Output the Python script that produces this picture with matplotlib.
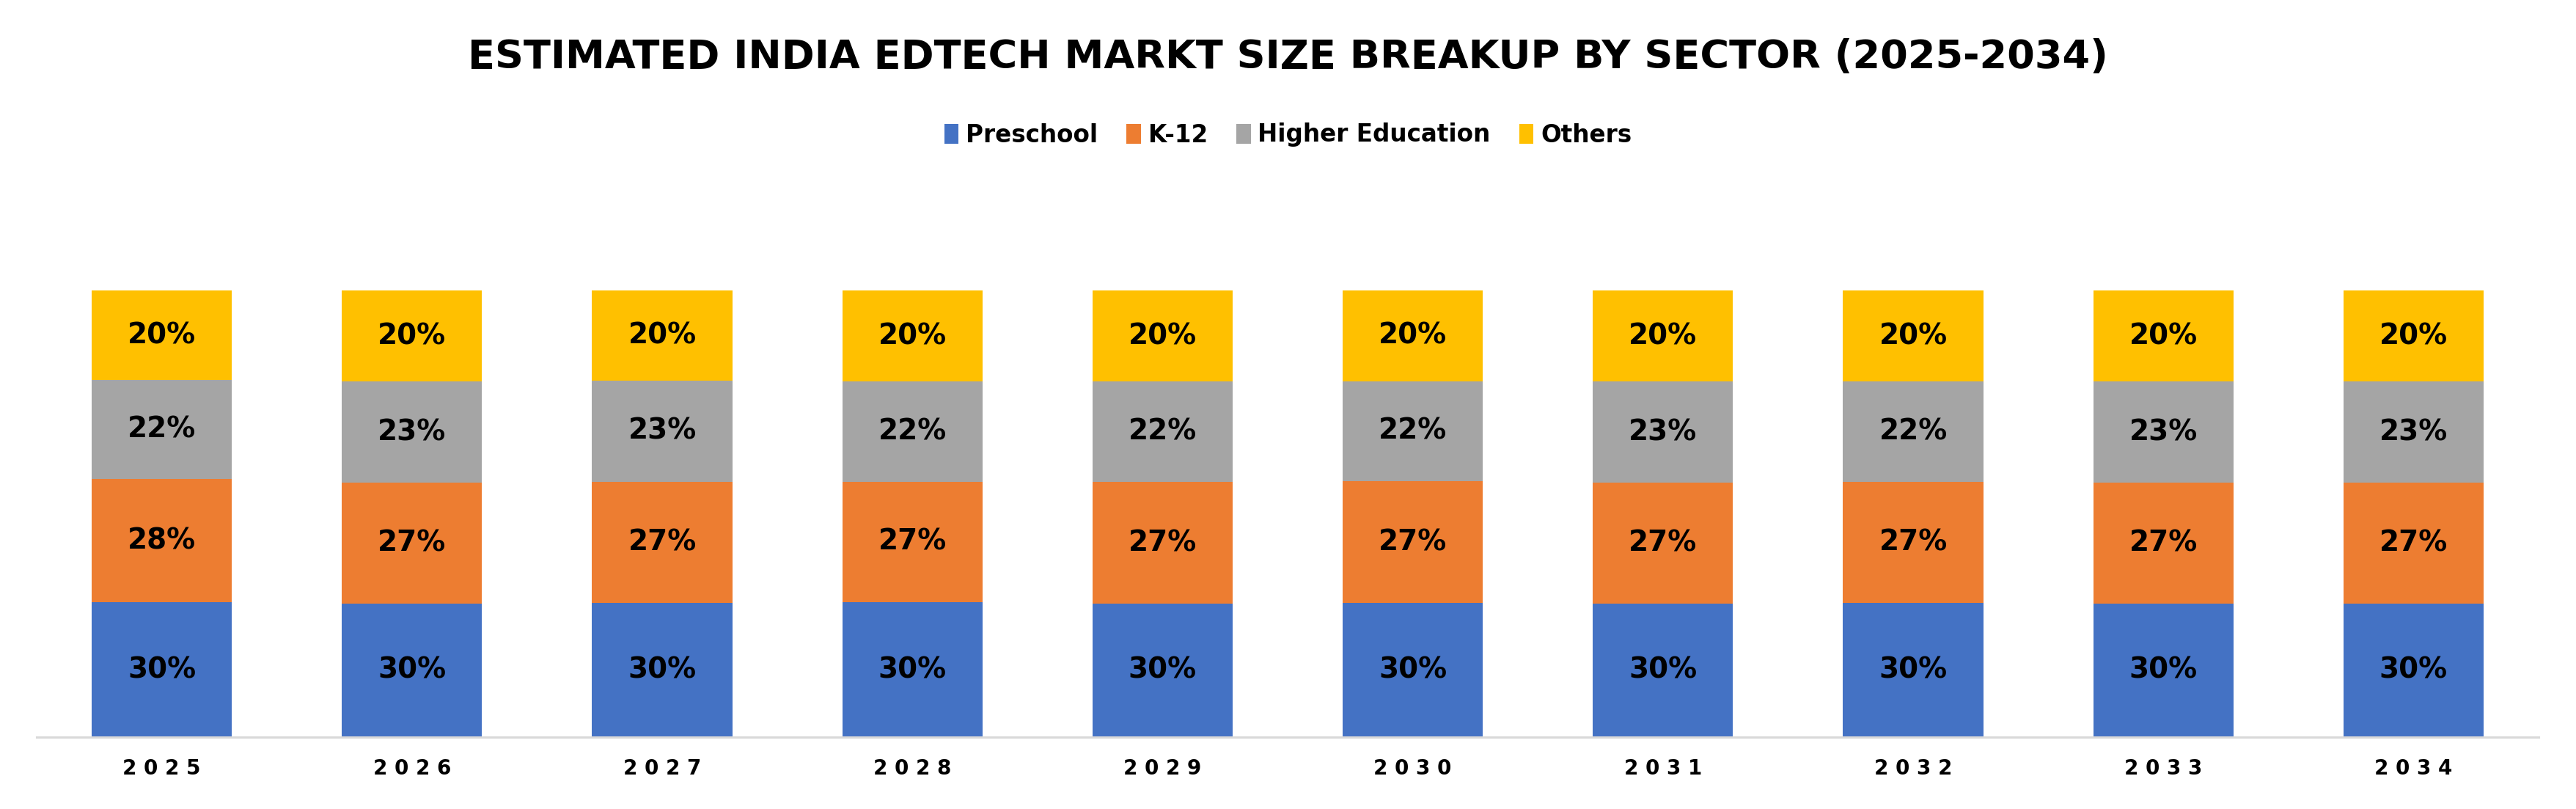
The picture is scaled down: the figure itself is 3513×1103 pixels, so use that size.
import matplotlib.pyplot as plt
from matplotlib.patches import Patch

# data (shares in %, each year sums to ~100)
years = ["2025", "2026", "2027", "2028", "2029", "2030", "2031", "2032", "2033", "2034"]
preschool = [30.2, 29.9, 30.0, 30.2, 29.9, 30.0, 29.9, 30.0, 29.9, 29.9]
k12 = [27.6, 27.0, 27.2, 27.0, 27.2, 27.3, 27.1, 27.2, 27.1, 27.1]
higher_ed = [22.1, 22.7, 22.6, 22.4, 22.5, 22.4, 22.6, 22.4, 22.6, 22.6]
others = [20.1, 20.4, 20.2, 20.4, 20.4, 20.3, 20.4, 20.4, 20.4, 20.4]

series = [
    ("Preschool", preschool, "#4472C4"),
    ("K-12", k12, "#ED7D31"),
    ("Higher Education", higher_ed, "#A5A5A5"),
    ("Others", others, "#FFC000"),
]

W, H = 3513, 1103
fig = plt.figure(figsize=(W / 100, H / 100), dpi=100)
ax = fig.add_axes([50 / W, 1 - 1005 / H, (3462 - 50) / W, (1005 - 396) / H])

x = list(range(len(years)))
bottom = [0.0] * len(years)
for name, vals, color in series:
    bars = ax.bar(x, vals, width=0.56, bottom=bottom, color=color, label=name)
    for i, b in enumerate(bars):
        ax.text(b.get_x() + b.get_width() / 2, bottom[i] + vals[i] / 2,
                f"{round(vals[i])}%", ha="center", va="center",
                fontsize=28, fontweight="bold", color="black")
    bottom = [bt + v for bt, v in zip(bottom, vals)]

ax.set_xlim(-0.5, len(years) - 0.5)
ax.set_ylim(0, 100)
ax.set_yticks([])
for s in ["top", "right", "left"]:
    ax.spines[s].set_visible(False)
ax.spines["bottom"].set_color("#D9D9D9")
ax.spines["bottom"].set_linewidth(2.2)
ax.set_xticks(x)
ax.set_xticklabels([" ".join(y) for y in years], fontsize=20, fontweight="bold")
ax.tick_params(axis="x", length=0, pad=21)

fig.text(0.5, 1 - 78 / H, "ESTIMATED INDIA EDTECH MARKT SIZE BREAKUP BY SECTOR (2025-2034)",
         ha="center", va="center", fontsize=39, fontweight="bold")

handles = [Patch(facecolor=c, label=n) for n, _, c in series]
fig.legend(handles=handles, loc="center", bbox_to_anchor=(0.5, 1 - 184 / H), ncol=4,
           frameon=False, prop={"size": 23.5, "weight": "bold"},
           handlelength=0.6, handleheight=0.9, handletextpad=0.3, columnspacing=1.2)

fig.savefig("out.png", dpi=100)
